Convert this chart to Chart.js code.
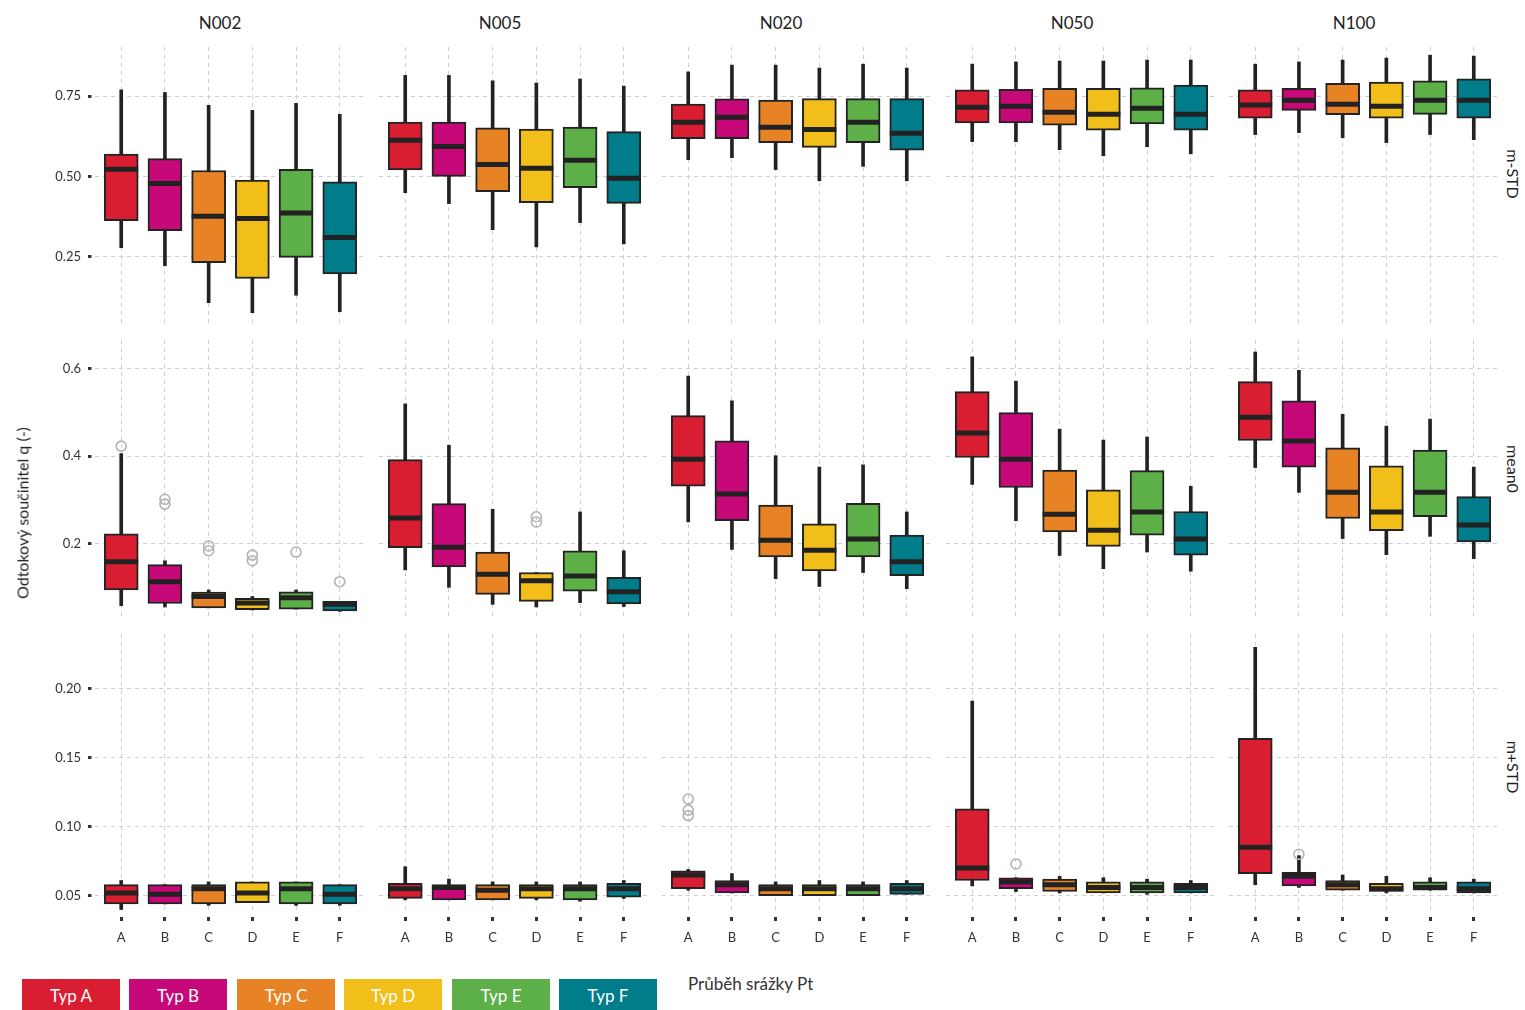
<!DOCTYPE html>
<html lang="cs">
<head>
<meta charset="utf-8">
<title>Odtokový součinitel q</title>
<script src="https://cdn.jsdelivr.net/npm/chart.js@4.4.1/dist/chart.umd.min.js"></script>
<style>
  body { margin: 0; background: #fff; font-family: Lato, "Open Sans", sans-serif; color: #333; }
  #page { position: relative; width: 1525px; height: 1010px; overflow: hidden; }
  #page canvas { position: absolute; }
  .lbl { position: absolute; white-space: nowrap; transform: translate(-50%, -50%); color: #222; font-size: 17px; }
  .rot-r { transform: translate(-50%, -50%) rotate(90deg); font-size: 16px; }
  .rot-l { transform: translate(-50%, -50%) rotate(-90deg); font-size: 16px; }
  .key { position: absolute; top: 979px; width: 98px; height: 33px; line-height: 33px;
         text-align: center; color: #fff; font-size: 17px; }
  .xtitle { position: absolute; left: 688px; top: 973px; font-size: 17px; color: #333; }
</style>
</head>
<body>
<div id="page"></div>
<script>
const categories = ['A', 'B', 'C', 'D', 'E', 'F'];
const durations = ['N002', 'N005', 'N020', 'N050', 'N100'];
const scenarios = ['m-STD', 'mean0', 'm+STD'];
const typeNames = ['Typ A', 'Typ B', 'Typ C', 'Typ D', 'Typ E', 'Typ F'];
const typeColors = ['#DA1E32', '#C70878', '#E88325', '#F2BE1A', '#5DAF48', '#007C8A'];

// y ticks of each row
const ticks_mSTD = [0.25, 0.5, 0.75];
const tickLabels_mSTD = ['0.25', '0.50', '0.75'];
const ticks_mean0 = [0.2, 0.4, 0.6];
const tickLabels_mean0 = ['0.2', '0.4', '0.6'];
const ticks_mPlus = [0.05, 0.1, 0.15, 0.2];
const tickLabels_mPlus = ['0.05', '0.10', '0.15', '0.20'];

// box statistics, one inner array per duration (N002 .. N100), values for A..F
const lo_mSTD = [
  [0.279, 0.223, 0.108, 0.077, 0.131, 0.080],
  [0.450, 0.416, 0.335, 0.281, 0.357, 0.291],
  [0.553, 0.559, 0.522, 0.487, 0.532, 0.487],
  [0.609, 0.609, 0.584, 0.565, 0.593, 0.571],
  [0.631, 0.637, 0.621, 0.606, 0.631, 0.615]
];
const q1_mSTD = [
  [0.363, 0.332, 0.232, 0.183, 0.249, 0.197],
  [0.521, 0.501, 0.453, 0.419, 0.466, 0.417],
  [0.618, 0.618, 0.606, 0.591, 0.606, 0.582],
  [0.667, 0.667, 0.660, 0.645, 0.664, 0.645],
  [0.682, 0.706, 0.693, 0.682, 0.694, 0.682]
];
const med_mSTD = [
  [0.523, 0.479, 0.377, 0.370, 0.387, 0.311],
  [0.613, 0.594, 0.538, 0.526, 0.551, 0.495],
  [0.669, 0.685, 0.654, 0.647, 0.669, 0.635],
  [0.716, 0.719, 0.700, 0.694, 0.713, 0.694],
  [0.723, 0.738, 0.725, 0.719, 0.738, 0.738]
];
const q3_mSTD = [
  [0.570, 0.556, 0.519, 0.489, 0.523, 0.484],
  [0.670, 0.670, 0.652, 0.648, 0.654, 0.640],
  [0.726, 0.742, 0.738, 0.743, 0.743, 0.743],
  [0.770, 0.772, 0.775, 0.775, 0.776, 0.785],
  [0.770, 0.775, 0.790, 0.794, 0.798, 0.804]
];
const hi_mSTD = [
  [0.770, 0.762, 0.722, 0.706, 0.728, 0.694],
  [0.815, 0.815, 0.798, 0.791, 0.804, 0.782],
  [0.826, 0.847, 0.847, 0.838, 0.850, 0.838],
  [0.850, 0.857, 0.860, 0.860, 0.863, 0.863],
  [0.850, 0.857, 0.863, 0.869, 0.878, 0.875]
];
const out_mSTD = [];

const lo_mean0 = [
  [0.057, 0.054, 0.052, 0.047, 0.049, 0.044],
  [0.139, 0.099, 0.060, 0.054, 0.064, 0.055],
  [0.249, 0.186, 0.119, 0.101, 0.133, 0.096],
  [0.335, 0.252, 0.172, 0.142, 0.180, 0.136],
  [0.374, 0.317, 0.211, 0.174, 0.216, 0.165]
];
const q1_mean0 = [
  [0.093, 0.062, 0.052, 0.048, 0.049, 0.045],
  [0.190, 0.146, 0.083, 0.067, 0.090, 0.061],
  [0.331, 0.252, 0.169, 0.137, 0.169, 0.126],
  [0.397, 0.328, 0.226, 0.193, 0.219, 0.173],
  [0.436, 0.375, 0.257, 0.229, 0.261, 0.203]
];
const med_mean0 = [
  [0.158, 0.112, 0.078, 0.063, 0.075, 0.060],
  [0.258, 0.191, 0.129, 0.114, 0.125, 0.089],
  [0.393, 0.313, 0.207, 0.184, 0.210, 0.158],
  [0.453, 0.393, 0.267, 0.230, 0.272, 0.210],
  [0.489, 0.435, 0.317, 0.272, 0.317, 0.242]
];
const q3_mean0 = [
  [0.222, 0.151, 0.088, 0.074, 0.089, 0.067],
  [0.392, 0.291, 0.180, 0.133, 0.183, 0.122],
  [0.493, 0.435, 0.288, 0.245, 0.292, 0.219],
  [0.548, 0.500, 0.368, 0.323, 0.367, 0.273],
  [0.571, 0.527, 0.419, 0.378, 0.414, 0.307]
];
const hi_mean0 = [
  [0.406, 0.160, 0.093, 0.078, 0.093, 0.067],
  [0.520, 0.425, 0.278, 0.133, 0.272, 0.183],
  [0.584, 0.527, 0.401, 0.375, 0.380, 0.272],
  [0.628, 0.572, 0.462, 0.437, 0.444, 0.331],
  [0.639, 0.597, 0.496, 0.469, 0.485, 0.375]
];
// [duration index, category index, value]
const out_mean0 = [
  [0, 0, 0.423], [0, 1, 0.301], [0, 1, 0.290], [0, 2, 0.194], [0, 2, 0.183],
  [0, 3, 0.173], [0, 3, 0.160], [0, 4, 0.180], [0, 5, 0.112],
  [1, 3, 0.261], [1, 3, 0.249]
];

const lo_mPlus = [
  [0.040, 0.044, 0.043, 0.045, 0.043, 0.043],
  [0.047, 0.047, 0.047, 0.047, 0.046, 0.048],
  [0.054, 0.052, 0.050, 0.050, 0.050, 0.051],
  [0.057, 0.053, 0.052, 0.052, 0.051, 0.052],
  [0.058, 0.056, 0.054, 0.052, 0.054, 0.052]
];
const q1_mPlus = [
  [0.044, 0.044, 0.044, 0.045, 0.044, 0.044],
  [0.048, 0.047, 0.047, 0.048, 0.047, 0.049],
  [0.055, 0.052, 0.050, 0.050, 0.050, 0.051],
  [0.061, 0.055, 0.053, 0.052, 0.052, 0.052],
  [0.066, 0.057, 0.054, 0.053, 0.054, 0.052]
];
const med_mPlus = [
  [0.052, 0.051, 0.055, 0.052, 0.055, 0.051],
  [0.055, 0.056, 0.054, 0.055, 0.055, 0.055],
  [0.065, 0.058, 0.055, 0.055, 0.055, 0.055],
  [0.070, 0.060, 0.058, 0.056, 0.056, 0.056],
  [0.085, 0.064, 0.058, 0.055, 0.056, 0.055]
];
const q3_mPlus = [
  [0.058, 0.058, 0.058, 0.060, 0.060, 0.058],
  [0.059, 0.058, 0.058, 0.058, 0.058, 0.059],
  [0.068, 0.061, 0.058, 0.058, 0.058, 0.059],
  [0.113, 0.063, 0.062, 0.060, 0.060, 0.059],
  [0.164, 0.067, 0.061, 0.059, 0.060, 0.060]
];
const hi_mPlus = [
  [0.061, 0.058, 0.060, 0.060, 0.060, 0.058],
  [0.071, 0.062, 0.060, 0.060, 0.060, 0.061],
  [0.069, 0.066, 0.060, 0.061, 0.060, 0.061],
  [0.191, 0.063, 0.064, 0.063, 0.062, 0.061],
  [0.230, 0.079, 0.065, 0.064, 0.063, 0.062]
];
const out_mPlus = [
  [2, 0, 0.120], [2, 0, 0.112], [2, 0, 0.108],
  [3, 1, 0.073], [4, 1, 0.080]
];

const rows = [
  { lo: lo_mSTD, q1: q1_mSTD, med: med_mSTD, q3: q3_mSTD, hi: hi_mSTD, out: out_mSTD,
    ticks: ticks_mSTD, labels: tickLabels_mSTD, min: 0.0415, max: 0.9034 },
  { lo: lo_mean0, q1: q1_mean0, med: med_mean0, q3: q3_mean0, hi: hi_mean0, out: out_mean0,
    ticks: ticks_mean0, labels: tickLabels_mean0, min: 0.031, max: 0.6665 },
  { lo: lo_mPlus, q1: q1_mPlus, med: med_mPlus, q3: q3_mPlus, hi: hi_mPlus, out: out_mPlus,
    ticks: ticks_mPlus, labels: tickLabels_mPlus, min: 0.0389, max: 0.2396 }
];

// facet grid geometry
const PANEL_W = 271, PANEL_H = 277;
const panelLeft = [95, 379, 662, 946, 1229];
const panelTop = [47, 340, 634];
const Y_AXIS_W = 95, X_AXIS_H = 50;
const GRID = '#cfcfcf';
const INK = '#222';

Chart.defaults.font.family = 'Lato, "Open Sans", sans-serif';
const page = document.getElementById('page');

function addLabel(text, x, y, cls) {
  const d = document.createElement('div');
  d.className = 'lbl' + (cls ? ' ' + cls : '');
  d.textContent = text;
  d.style.left = x + 'px';
  d.style.top = y + 'px';
  page.appendChild(d);
}

function drawPanel(r, c) {
  const row = rows[r];
  const leftAxis = c === 0;
  const bottomAxis = r === rows.length - 1;
  const canvas = document.createElement('canvas');
  canvas.width = PANEL_W + (leftAxis ? Y_AXIS_W : 0);
  canvas.height = PANEL_H + (bottomAxis ? X_AXIS_H : 0);
  canvas.style.left = (panelLeft[c] - (leftAxis ? Y_AXIS_W : 0)) + 'px';
  canvas.style.top = panelTop[r] + 'px';
  page.appendChild(canvas);

  const whiskers = categories.map((_, i) => ({ x: i, y: [row.lo[c][i], row.hi[c][i]] }));
  const boxes = categories.map((_, i) => ({ x: i, y: [row.q1[c][i], row.q3[c][i]] }));
  const medians = categories.map((_, i) => ({ x: i, y: row.med[c][i] }));
  const outliers = row.out.filter(o => o[0] === c).map(o => ({ x: o[1], y: o[2] }));

  new Chart(canvas, {
    type: 'bar',
    data: {
      datasets: [
        { type: 'bar', data: whiskers, backgroundColor: INK, borderWidth: 0,
          barThickness: 3, grouped: false, order: 4 },
        { type: 'bar', data: boxes, backgroundColor: typeColors, borderColor: '#232323',
          borderWidth: 2, borderSkipped: false, barThickness: 34, grouped: false, order: 3 },
        { type: 'scatter', data: medians, pointStyle: 'line', pointRadius: 17,
          pointBorderColor: INK, pointBorderWidth: 5, order: 2 },
        { type: 'scatter', data: outliers, pointStyle: 'circle', pointRadius: 5,
          pointBorderColor: '#b3b3b3', pointBorderWidth: 1.6,
          pointBackgroundColor: 'rgba(0,0,0,0)', order: 1 }
      ]
    },
    options: {
      responsive: false,
      animation: false,
      devicePixelRatio: 1,
      layout: { padding: 0, autoPadding: false },
      plugins: { legend: { display: false }, tooltip: { enabled: false } },
      scales: {
        x: {
          type: 'linear', min: -0.6, max: 5.6, offset: false,
          afterBuildTicks: s => { s.ticks = categories.map((_, i) => ({ value: i })); },
          ticks: { display: bottomAxis, callback: v => categories[v], color: '#333',
                   font: { size: 13 }, padding: 9, maxRotation: 0, autoSkip: false },
          grid: { offset: false, color: GRID, lineWidth: 1, drawTicks: bottomAxis, tickLength: 10,
                  tickColor: '#333', tickWidth: 3, tickBorderDash: [0, 6, 4, 100] },
          border: { display: false, dash: [4, 4] },
          afterFit: s => { s.height = bottomAxis ? X_AXIS_H : 0; s.paddingLeft = 0; s.paddingRight = 0; }
        },
        y: {
          type: 'linear', min: row.min, max: row.max, offset: false,
          afterBuildTicks: s => { s.ticks = row.ticks.map(v => ({ value: v })); },
          ticks: { display: leftAxis, callback: (v, i) => row.labels[i], color: '#333',
                   font: { size: 13 }, padding: 7 },
          grid: { color: GRID, lineWidth: 1, drawTicks: leftAxis, tickLength: 7,
                  tickColor: '#333', tickWidth: 3, tickBorderDash: [3.5, 100] },
          border: { display: false, dash: [4, 4] },
          afterFit: s => { s.width = leftAxis ? Y_AXIS_W : 0; s.paddingTop = 0; s.paddingBottom = 0; }
        }
      }
    }
  });
}

for (let r = 0; r < rows.length; r++) {
  for (let c = 0; c < durations.length; c++) drawPanel(r, c);
}

// strip labels
const stripX = [220, 500, 781, 1072, 1354];
durations.forEach((d, c) => addLabel(d, stripX[c], 22));
const stripY = [174, 469, 767];
scenarios.forEach((s, r) => addLabel(s, 1513, stripY[r], 'rot-r'));
addLabel('Odtokový součinitel q (-)', 22, 513, 'rot-l');

// legend
const keyLeft = [22, 129, 237, 344, 452, 559];
typeNames.forEach((t, i) => {
  const k = document.createElement('div');
  k.className = 'key';
  k.style.left = keyLeft[i] + 'px';
  k.style.background = typeColors[i];
  k.textContent = t;
  page.appendChild(k);
});
const xt = document.createElement('div');
xt.className = 'xtitle';
xt.textContent = 'Průběh srážky Pt';
page.appendChild(xt);
</script>
</body>
</html>
